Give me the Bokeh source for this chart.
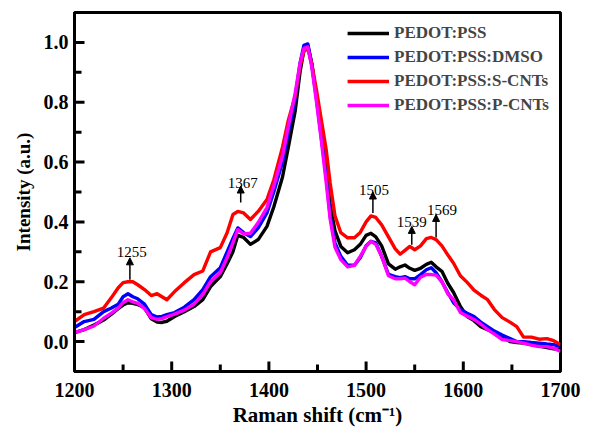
from bokeh.plotting import figure
from bokeh.models import (Range1d, SingleIntervalTicker, NumeralTickFormatter,
                          ColumnDataSource, Arrow, NormalHead, Legend, LegendItem)
from bokeh.core.properties import value
from bokeh.embed import file_html
from bokeh.resources import INLINE

# Raman shift (cm^-1)
shift = [1200, 1210, 1220, 1230, 1238, 1245, 1250, 1255, 1260, 1265,
         1272, 1279, 1285, 1290, 1295, 1303, 1313, 1323, 1332, 1340,
         1350, 1357, 1363, 1368, 1374, 1381, 1389, 1398, 1405, 1414,
         1420, 1427, 1432, 1436, 1440, 1444, 1449, 1454, 1459, 1463,
         1468, 1474, 1481, 1488, 1494, 1500, 1505, 1510, 1516, 1523,
         1530, 1535, 1540, 1545, 1550, 1556, 1562, 1567, 1572, 1578,
         1584, 1590, 1597, 1604, 1611, 1618, 1625, 1632, 1640, 1648,
         1655, 1662, 1670, 1678, 1686, 1693, 1700]

pedot_pss = [0.030, 0.040, 0.055, 0.072, 0.092, 0.110, 0.122, 0.130, 0.128, 0.124,
             0.113, 0.076, 0.065, 0.064, 0.068, 0.084, 0.100, 0.117, 0.140, 0.184,
             0.217, 0.260, 0.300, 0.355, 0.348, 0.325, 0.341, 0.385, 0.450, 0.550,
             0.650, 0.770, 0.900, 0.975, 0.990, 0.930, 0.820, 0.700, 0.580, 0.460,
             0.370, 0.318, 0.297, 0.307, 0.325, 0.355, 0.362, 0.350, 0.320, 0.260,
             0.242, 0.250, 0.256, 0.245, 0.238, 0.245, 0.258, 0.265, 0.250, 0.235,
             0.195, 0.164, 0.117, 0.084, 0.070, 0.050, 0.040, 0.030, 0.015, 0.000,
             -0.003, -0.005, -0.010, -0.015, -0.020, -0.024, -0.027]

pedot_dmso = [0.047, 0.067, 0.074, 0.100, 0.112, 0.125, 0.150, 0.160, 0.150, 0.143,
              0.125, 0.090, 0.082, 0.084, 0.090, 0.097, 0.115, 0.140, 0.174, 0.217,
              0.247, 0.300, 0.345, 0.380, 0.364, 0.351, 0.380, 0.430, 0.500, 0.600,
              0.700, 0.810, 0.930, 0.990, 0.995, 0.930, 0.810, 0.680, 0.550, 0.420,
              0.330, 0.285, 0.255, 0.255, 0.280, 0.320, 0.335, 0.330, 0.285, 0.225,
              0.217, 0.214, 0.217, 0.210, 0.210, 0.224, 0.240, 0.247, 0.230, 0.200,
              0.164, 0.130, 0.107, 0.095, 0.084, 0.065, 0.050, 0.035, 0.022, 0.010,
              0.000, 0.000, -0.003, -0.005, -0.008, -0.010, -0.017]

pedot_scnt = [0.067, 0.090, 0.100, 0.112, 0.147, 0.180, 0.197, 0.200, 0.200, 0.190,
              0.174, 0.154, 0.160, 0.150, 0.140, 0.167, 0.197, 0.224, 0.236, 0.300,
              0.314, 0.364, 0.425, 0.435, 0.430, 0.408, 0.435, 0.475, 0.540, 0.650,
              0.740, 0.820, 0.920, 0.970, 0.980, 0.930, 0.840, 0.740, 0.640, 0.530,
              0.420, 0.364, 0.347, 0.347, 0.365, 0.400, 0.420, 0.415, 0.390, 0.350,
              0.310, 0.292, 0.305, 0.318, 0.307, 0.320, 0.344, 0.348, 0.341, 0.320,
              0.290, 0.262, 0.220, 0.198, 0.172, 0.155, 0.140, 0.107, 0.080, 0.065,
              0.050, 0.015, 0.015, 0.008, 0.010, 0.003, -0.010]

pedot_pcnt = [0.030, 0.040, 0.052, 0.078, 0.095, 0.112, 0.130, 0.140, 0.133, 0.128,
              0.110, 0.080, 0.074, 0.077, 0.083, 0.092, 0.105, 0.125, 0.157, 0.200,
              0.230, 0.280, 0.330, 0.374, 0.360, 0.362, 0.398, 0.448, 0.520, 0.620,
              0.720, 0.830, 0.930, 0.980, 0.985, 0.920, 0.800, 0.670, 0.530, 0.410,
              0.315, 0.274, 0.250, 0.255, 0.285, 0.318, 0.335, 0.325, 0.285, 0.220,
              0.210, 0.210, 0.212, 0.200, 0.190, 0.215, 0.224, 0.224, 0.222, 0.200,
              0.160, 0.140, 0.097, 0.085, 0.074, 0.058, 0.040, 0.025, 0.007, 0.003,
              0.000, -0.005, -0.012, -0.017, -0.017, -0.022, -0.033]

series_names = ["PEDOT:PSS", "PEDOT:PSS:DMSO", "PEDOT:PSS:S-CNTs", "PEDOT:PSS:P-CNTs"]
series_colors = ["#000000", "#0000ff", "#ff0000", "#ff00ff"]

# Tick values
x_major_ticks = [1200, 1300, 1400, 1500, 1600, 1700]
x_minor_ticks = [1250, 1350, 1450, 1550, 1650]
y_major_ticks = [0.0, 0.2, 0.4, 0.6, 0.8, 1.0]
y_minor_ticks = [-0.1, 0.1, 0.3, 0.5, 0.7, 0.9]

# Peak annotations
peak_labels = ["1255", "1367", "1505", "1539", "1569"]
label_x = [1259, 1373, 1508, 1547, 1578]
label_y = [0.298, 0.530, 0.508, 0.400, 0.440]
arrow_x = [1257, 1371, 1507, 1547, 1572]
arrow_y0 = [0.207, 0.465, 0.430, 0.324, 0.348]
arrow_y1 = [0.280, 0.520, 0.500, 0.385, 0.425]

SERIF = "Liberation Serif"
X0, X1, Y0, Y1 = 1200, 1700, -0.1, 1.1
W, H = 592, 429
BL, BR, BT, BB = 74, 32, 12, 57
XPP = (X1 - X0) / (W - BL - BR)   # data units per pixel
YPP = (Y1 - Y0) / (H - BT - BB)

p = figure(width=W, height=H, output_backend="svg", toolbar_location=None,
           x_range=Range1d(X0, X1), y_range=Range1d(Y0, Y1),
           min_border_left=BL, min_border_right=BR, min_border_top=BT,
           min_border_bottom=BB)
p.background_fill_color = "white"
p.border_fill_color = "white"
p.xgrid.grid_line_color = None
p.ygrid.grid_line_color = None
p.outline_line_color = "black"
p.outline_line_width = 3
p.outline_line_alpha = 1.0

p.xaxis.ticker = SingleIntervalTicker(interval=100, num_minor_ticks=2)
p.yaxis.ticker = SingleIntervalTicker(interval=0.2, num_minor_ticks=2)
p.yaxis.formatter = NumeralTickFormatter(format="0.0")

for ax in (p.xaxis[0], p.yaxis[0]):
    ax.axis_line_width = 3
    ax.axis_line_color = "black"
    ax.major_tick_in = 0
    ax.major_tick_out = 0
    ax.minor_tick_in = 0
    ax.minor_tick_out = 0
    ax.major_tick_line_color = None
    ax.minor_tick_line_color = None
    ax.major_label_text_font = SERIF
    ax.major_label_text_font_style = "bold"
    ax.major_label_text_font_size = "20px"
    ax.major_label_text_color = "black"
    ax.axis_label_text_font = SERIF
    ax.axis_label_text_font_style = "bold"
    ax.axis_label_text_color = "black"

p.xaxis.axis_label = "Raman shift (cm\u207b\u00b9)"
p.yaxis.axis_label = "Intensity (a.u.)"
p.xaxis.axis_label_text_font_size = "21px"
p.yaxis.axis_label_text_font_size = "19px"
p.xaxis.major_label_standoff = 11
p.yaxis.major_label_standoff = 6
p.xaxis.axis_label_standoff = 3
p.yaxis.axis_label_standoff = 7

series = [pedot_pss, pedot_dmso, pedot_scnt, pedot_pcnt]
items = []
for name, color, ys in zip(series_names, series_colors, series):
    r = p.line(shift, ys, line_color=color, line_width=3.4, line_join="round")
    items.append(LegendItem(label=name, renderers=[r]))

# Inward tick marks drawn as short segments
MAJ, MIN = 10, 7  # tick lengths in pixels
p.segment(x0=x_major_ticks, y0=[Y0] * len(x_major_ticks),
          x1=x_major_ticks, y1=[Y0 + MAJ * YPP] * len(x_major_ticks),
          line_color="black", line_width=3)
p.segment(x0=x_minor_ticks, y0=[Y0] * len(x_minor_ticks),
          x1=x_minor_ticks, y1=[Y0 + MIN * YPP] * len(x_minor_ticks),
          line_color="black", line_width=3)
p.segment(x0=[X0] * len(y_major_ticks), y0=y_major_ticks,
          x1=[X0 + MAJ * XPP] * len(y_major_ticks), y1=y_major_ticks,
          line_color="black", line_width=3)
p.segment(x0=[X0] * len(y_minor_ticks), y0=y_minor_ticks,
          x1=[X0 + MIN * XPP] * len(y_minor_ticks), y1=y_minor_ticks,
          line_color="black", line_width=3)

legend = Legend(items=items, location="top_right")
legend.border_line_alpha = 0
legend.background_fill_alpha = 0
legend.label_text_font = SERIF
legend.label_text_font_style = "bold"
legend.label_text_font_size = "17px"
legend.glyph_width = 42
legend.glyph_height = 20
legend.label_height = 20
legend.label_standoff = 5
legend.spacing = 4
legend.padding = 8
legend.margin = 3
p.add_layout(legend)

arrow_src = ColumnDataSource(dict(x0=arrow_x, y0=arrow_y0, x1=arrow_x, y1=arrow_y1))
p.add_layout(Arrow(source=arrow_src, x_start="x0", y_start="y0", x_end="x1", y_end="y1",
                   line_width=1.5, line_color="black",
                   end=NormalHead(size=7, fill_color="black", line_color="black")))

p.text(label_x, label_y, text=peak_labels, text_font=value(SERIF),
       text_font_size="15px", text_align="center", text_baseline="alphabetic",
       text_color="black")

open("out.html", "w").write(file_html(p, INLINE))
